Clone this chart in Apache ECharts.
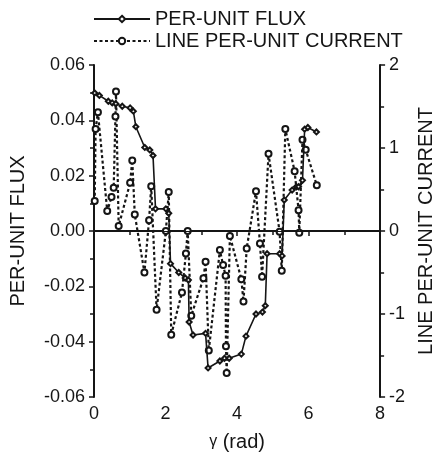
<!DOCTYPE html>
<html>
<head>
<meta charset="utf-8">
<script src="https://cdn.jsdelivr.net/npm/echarts@6/dist/echarts.min.js"></script>
<style>
  html, body { margin: 0; padding: 0; background: #fff; }
  #main { width: 444px; height: 457px; }
</style>
</head>
<body>
<div id="main"></div>
<script>
// per-unit flux (solid line), gamma in rad
var fluxX = [0.02, 0.15, 0.40, 0.51, 0.61, 0.79, 1.01, 1.10, 1.17, 1.42, 1.56, 1.65, 1.72, 2.01, 2.09, 2.14, 2.37, 2.55, 2.64, 2.66, 2.77, 3.12, 3.19, 3.52, 3.65, 3.78, 4.12, 4.25, 4.53, 4.71, 4.79, 4.84, 5.19, 5.26, 5.32, 5.54, 5.66, 5.72, 5.83, 5.89, 5.98, 6.22];
var fluxY = [0.0499, 0.049, 0.0469, 0.0463, 0.046, 0.0451, 0.0445, 0.0433, 0.0377, 0.0302, 0.0293, 0.0273, 0.0080, 0.0080, 0.0064, -0.0118, -0.0150, -0.0170, -0.0177, -0.0329, -0.0376, -0.0370, -0.0495, -0.0470, -0.0460, -0.0460, -0.0445, -0.0380, -0.0300, -0.0293, -0.0270, -0.0082, -0.0082, -0.0090, 0.0112, 0.0148, 0.0160, 0.0160, 0.0183, 0.0368, 0.0374, 0.0358];

// line per-unit current (dashed line)
var curX = [0.02, 0.045, 0.11, 0.37, 0.49, 0.55, 0.60, 0.615, 0.69, 1.01, 1.07, 1.14, 1.41, 1.54, 1.60, 1.75, 2.01, 2.09, 2.16, 2.46, 2.57, 2.62, 2.72, 3.06, 3.12, 3.21, 3.52, 3.61, 3.68, 3.69, 3.71, 3.80, 4.12, 4.18, 4.27, 4.53, 4.64, 4.70, 4.88, 5.19, 5.25, 5.35, 5.61, 5.72, 5.74, 5.83, 5.92, 6.23];
var curY = [0.36, 1.23, 1.43, 0.24, 0.41, 0.52, 1.38, 1.68, 0.06, 0.58, 0.85, 0.20, -0.50, 0.13, 0.54, -0.95, 0.00, 0.47, -1.25, -0.74, -0.27, 0.00, -1.02, -0.57, -0.37, -1.44, -0.23, -0.41, -0.54, -1.39, -1.71, -0.06, -0.58, -0.85, -0.21, 0.48, -0.15, -0.55, 0.93, -0.01, -0.48, 1.23, 0.72, 0.25, -0.02, 1.10, 0.98, 0.55];

var xTicks = [0, 2, 4, 6, 8];
var fluxTicks = [-0.06, -0.04, -0.02, 0.00, 0.02, 0.04, 0.06];
var curTicks = [-2, -1, 0, 1, 2];

var FONT = 'Liberation Sans';
var INK = '#151515';

var myChart = echarts.init(document.getElementById('main'));

function pairs(xs, ys) {
    return xs.map(function (x, i) { return [x, ys[i]]; });
}

var option = {
    animation: false,
    backgroundColor: '#fff',
    textStyle: { fontFamily: FONT, color: INK },
    legend: {
        orient: 'vertical',
        left: 88,
        top: 4,
        itemWidth: 56,
        itemHeight: 8,
        itemGap: 2,
        textStyle: { fontFamily: FONT, fontSize: 20, color: INK, lineHeight: 20 },
        data: ['PER-UNIT FLUX', 'LINE PER-UNIT CURRENT']
    },
    grid: { left: 90, right: 50, top: 65, bottom: 56 },
    xAxis: {
        type: 'value',
        min: xTicks[0],
        max: xTicks[xTicks.length - 1],
        interval: 2,
        name: '{g|γ} (rad)',
        nameLocation: 'middle',
        nameGap: 35,
        nameTextStyle: {
            fontFamily: FONT, fontSize: 20, color: INK,
            rich: { g: { fontFamily: FONT, fontSize: 16, color: INK } }
        },
        axisLine: { lineStyle: { color: INK, width: 2 } },
        axisTick: { length: 5, lineStyle: { color: INK, width: 1.5 } },
        minorTick: { show: true, splitNumber: 2, length: 4, lineStyle: { color: INK, width: 1.5 } },
        axisLabel: { fontFamily: FONT, fontSize: 18, color: INK, margin: 8 },
        splitLine: { show: false }
    },
    yAxis: [{
        type: 'value',
        position: 'left',
        min: fluxTicks[0],
        max: fluxTicks[fluxTicks.length - 1],
        interval: 0.02,
        name: 'PER-UNIT FLUX',
        nameLocation: 'middle',
        nameRotate: 90,
        nameGap: 66,
        nameTextStyle: { fontFamily: FONT, fontSize: 20, color: INK },
        axisLine: { show: true, lineStyle: { color: INK, width: 2 } },
        axisTick: { length: 5, lineStyle: { color: INK, width: 1.5 } },
        minorTick: { show: true, splitNumber: 2, length: 4, lineStyle: { color: INK, width: 1.5 } },
        axisLabel: {
            fontFamily: FONT, fontSize: 18, color: INK, margin: 9,
            formatter: function (v) { return v.toFixed(2); }
        },
        splitLine: { show: false }
    }, {
        type: 'value',
        position: 'right',
        min: curTicks[0],
        max: curTicks[curTicks.length - 1],
        interval: 1,
        name: 'LINE PER-UNIT CURRENT',
        nameLocation: 'middle',
        nameRotate: 90,
        nameGap: 32,
        nameTextStyle: { fontFamily: FONT, fontSize: 20, color: INK },
        axisLine: { show: true, lineStyle: { color: INK, width: 2 } },
        axisTick: { length: 5, lineStyle: { color: INK, width: 1.5 } },
        minorTick: { show: true, splitNumber: 2, length: 4, lineStyle: { color: INK, width: 1.5 } },
        axisLabel: { fontFamily: FONT, fontSize: 18, color: INK, margin: 9 },
        splitLine: { show: false }
    }],
    series: [{
        name: 'PER-UNIT FLUX',
        type: 'line',
        yAxisIndex: 0,
        data: pairs(fluxX, fluxY),
        symbol: 'emptyDiamond',
        symbolSize: 5,
        lineStyle: { color: INK, width: 1.6 },
        itemStyle: { color: INK, borderColor: INK, borderWidth: 1 },
        z: 3,
        markLine: {
            silent: true,
            symbol: 'none',
            label: { show: false },
            lineStyle: { color: INK, width: 1, type: 'solid' },
            data: [{ yAxis: 0 }]
        }
    }, {
        name: 'LINE PER-UNIT CURRENT',
        type: 'line',
        yAxisIndex: 1,
        data: pairs(curX, curY),
        symbol: 'emptyCircle',
        symbolSize: 6,
        lineStyle: { color: INK, width: 2.2, type: [3, 2.5] },
        itemStyle: { color: INK, borderColor: INK, borderWidth: 1.3 },
        z: 2
    }]
};

myChart.setOption(option);
</script>
</body>
</html>
